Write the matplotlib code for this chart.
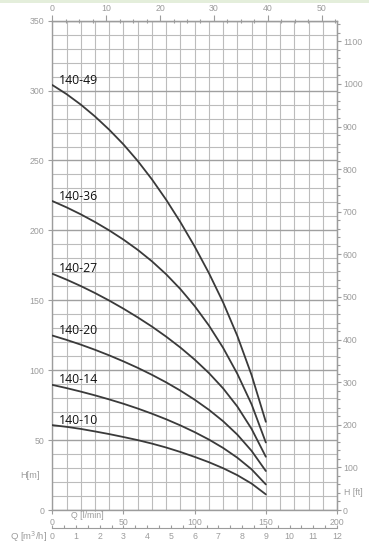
import matplotlib
matplotlib.use("Agg")
import matplotlib.pyplot as plt
import matplotlib.patches as mpatches
import numpy as np

# ---------------- data ----------------
q_lmin = [0, 10, 20, 30, 40, 50, 60, 70, 80, 90, 100, 110, 120, 130, 140, 150]
series_names = ["140-49", "140-36", "140-27", "140-20", "140-14", "140-10"]
h_140_49 = [304, 297.5, 290, 281.5, 272, 261.5, 249.7, 236.5, 221.9, 205.9, 188.5, 169.5, 148.5, 124.5, 96.5, 63.1]
h_140_36 = [221, 216.5, 211.5, 206, 200, 193.4, 186.1, 177.9, 168.6, 158, 145.9, 132, 116, 97.4, 75.6, 48.3]
h_140_27 = [169, 164.8, 160.2, 155.2, 149.8, 144, 137.8, 131.2, 124, 116.2, 107.6, 98, 87, 74, 58, 38.1]
h_140_20 = [124.8, 121.7, 118.3, 114.6, 110.6, 106.3, 101.7, 96.7, 91.3, 85.4, 78.9, 71.7, 63.5, 53.9, 42.3, 27.9]
h_140_14 = [89.5, 87.2, 84.7, 82, 79.1, 76, 72.6, 68.9, 64.9, 60.5, 55.7, 50.4, 44.4, 37.4, 29.1, 18.3]
h_140_10 = [60.7, 59.5, 58, 56.2, 54.3, 52.2, 50, 47.5, 44.7, 41.5, 38, 34.2, 29.9, 24.9, 18.9, 11.2]
series_values = [h_140_49, h_140_36, h_140_27, h_140_20, h_140_14, h_140_10]

x_ticks_lmin = [0, 50, 100, 150, 200]
y_ticks_m = [0, 50, 100, 150, 200, 250, 300, 350]
top_ticks_gpm = [0, 10, 20, 30, 40, 50]
right_ticks_ft = [0, 100, 200, 300, 400, 500, 600, 700, 800, 900, 1000, 1100]
m3h_ticks = [0, 1, 2, 3, 4, 5, 6, 7, 8, 9, 10, 11, 12]

# ---------------- style ----------------
W, H = 369, 551
GRAY = "#9c9c9c"
GRID = "#bcbcbc"
FONT = ["Liberation Sans", "DejaVu Sans"]
plt.rcParams["font.family"] = FONT
TS = 6.3

fig = plt.figure(figsize=(W / 100, H / 100), dpi=100)
fig.patch.set_facecolor("white")
# faint green strip at the very top of the picture
fig.patches.append(mpatches.Rectangle((0, 1 - 2.5 / H), 1, 2.5 / H, transform=fig.transFigure,
                                      facecolor="#e4eedb", edgecolor="none"))

x0, x1, y0, y1 = 52.3, 337.0, 20.7, 510.0
ax = fig.add_axes([x0 / W, 1 - y1 / H, (x1 - x0) / W, (y1 - y0) / H])
ax.set_xlim(0, 200)
ax.set_ylim(0, 350)

# grid
ax.set_xticks(x_ticks_lmin)
ax.set_xticks(np.arange(0, 201, 10), minor=True)
ax.set_yticks(y_ticks_m)
ax.set_yticks(np.arange(0, 351, 10), minor=True)
ax.grid(which="both", axis="x", color=GRID, lw=0.8)
ax.grid(which="minor", axis="y", color=GRID, lw=0.8)
ax.grid(which="major", axis="y", color="#a0a0a0", lw=1.0)
ax.set_axisbelow(True)

for s in ax.spines.values():
    s.set_color(GRAY)
    s.set_linewidth(1.0)

ax.tick_params(which="major", direction="out", length=3, width=0.8, color=GRAY,
               labelcolor=GRAY, labelsize=TS, pad=2.6)
ax.tick_params(which="minor", length=0)

# curves
for name, vals in zip(series_names, series_values):
    ax.plot(q_lmin, vals, color="#3a3a3a", lw=1.3, solid_capstyle="round",
            solid_joinstyle="round", zorder=3)
    ax.text(4.7, vals[0] + 1.0, name, fontsize=8.8, family=["Open Sans", "DejaVu Sans"],
            color="#111111", ha="left", va="baseline", zorder=4)

# top axis: US gpm
LPM_PER_GPM = 3.78541
top = ax.secondary_xaxis("top", functions=(lambda q: q / LPM_PER_GPM, lambda g: g * LPM_PER_GPM))
top.set_xticks(top_ticks_gpm)
top.set_xticks(np.arange(0, 53, 2.5), minor=True)
top.tick_params(which="major", direction="out", length=4.5, width=0.8, color=GRAY,
                labelcolor=GRAY, labelsize=TS, pad=1.0)
top.tick_params(which="minor", direction="inout", length=2.6, width=0.8, color=GRAY)
top.spines["top"].set_color(GRAY)

# right axis: feet
FT_PER_M = 3.28084
right = ax.secondary_yaxis("right", functions=(lambda m: m * FT_PER_M, lambda f: f / FT_PER_M))
right.set_yticks(right_ticks_ft)
right.set_yticks(np.arange(0, 1150, 20), minor=True)
right.tick_params(which="major", direction="out", length=3, width=0.8, color=GRAY,
                  labelcolor=GRAY, labelsize=TS, pad=1.3)
right.tick_params(which="minor", direction="out", length=1.8, width=0.8, color=GRAY)
right.spines["right"].set_color(GRAY)

# bottom secondary axis: m3/h
LPM_PER_M3H = 1000.0 / 60.0
loc = -(527.7 - y1) / (y1 - y0)
bot = ax.secondary_xaxis(loc, functions=(lambda q: q / LPM_PER_M3H, lambda m: m * LPM_PER_M3H))
bot.set_xticks(m3h_ticks)
bot.set_xticks(np.arange(0, 12.01, 0.5), minor=True)
bot.tick_params(which="both", direction="in", length=2.5, width=0.8, color=GRAY,
                labelcolor=GRAY, labelsize=TS, pad=3.0)
bot.spines["bottom"].set_color(GRAY)

# axis titles
fig.text(87 / W, 1 - 516 / H, "Q [l/min]", color=GRAY, fontsize=TS, ha="center", va="center")
fig.text(47 / W, 1 - 536.7 / H, "Q [m$^3$/h]", color=GRAY, fontsize=TS + 0.5, ha="right", va="center")
fig.text(30.3 / W, 1 - 475 / H, "H[m]", color=GRAY, fontsize=TS + 0.3, ha="center", va="center")
fig.text(353.5 / W, 1 - 492.7 / H, "H [ft]", color=GRAY, fontsize=TS, ha="center", va="center")

fig.savefig("out.png", dpi=100)
